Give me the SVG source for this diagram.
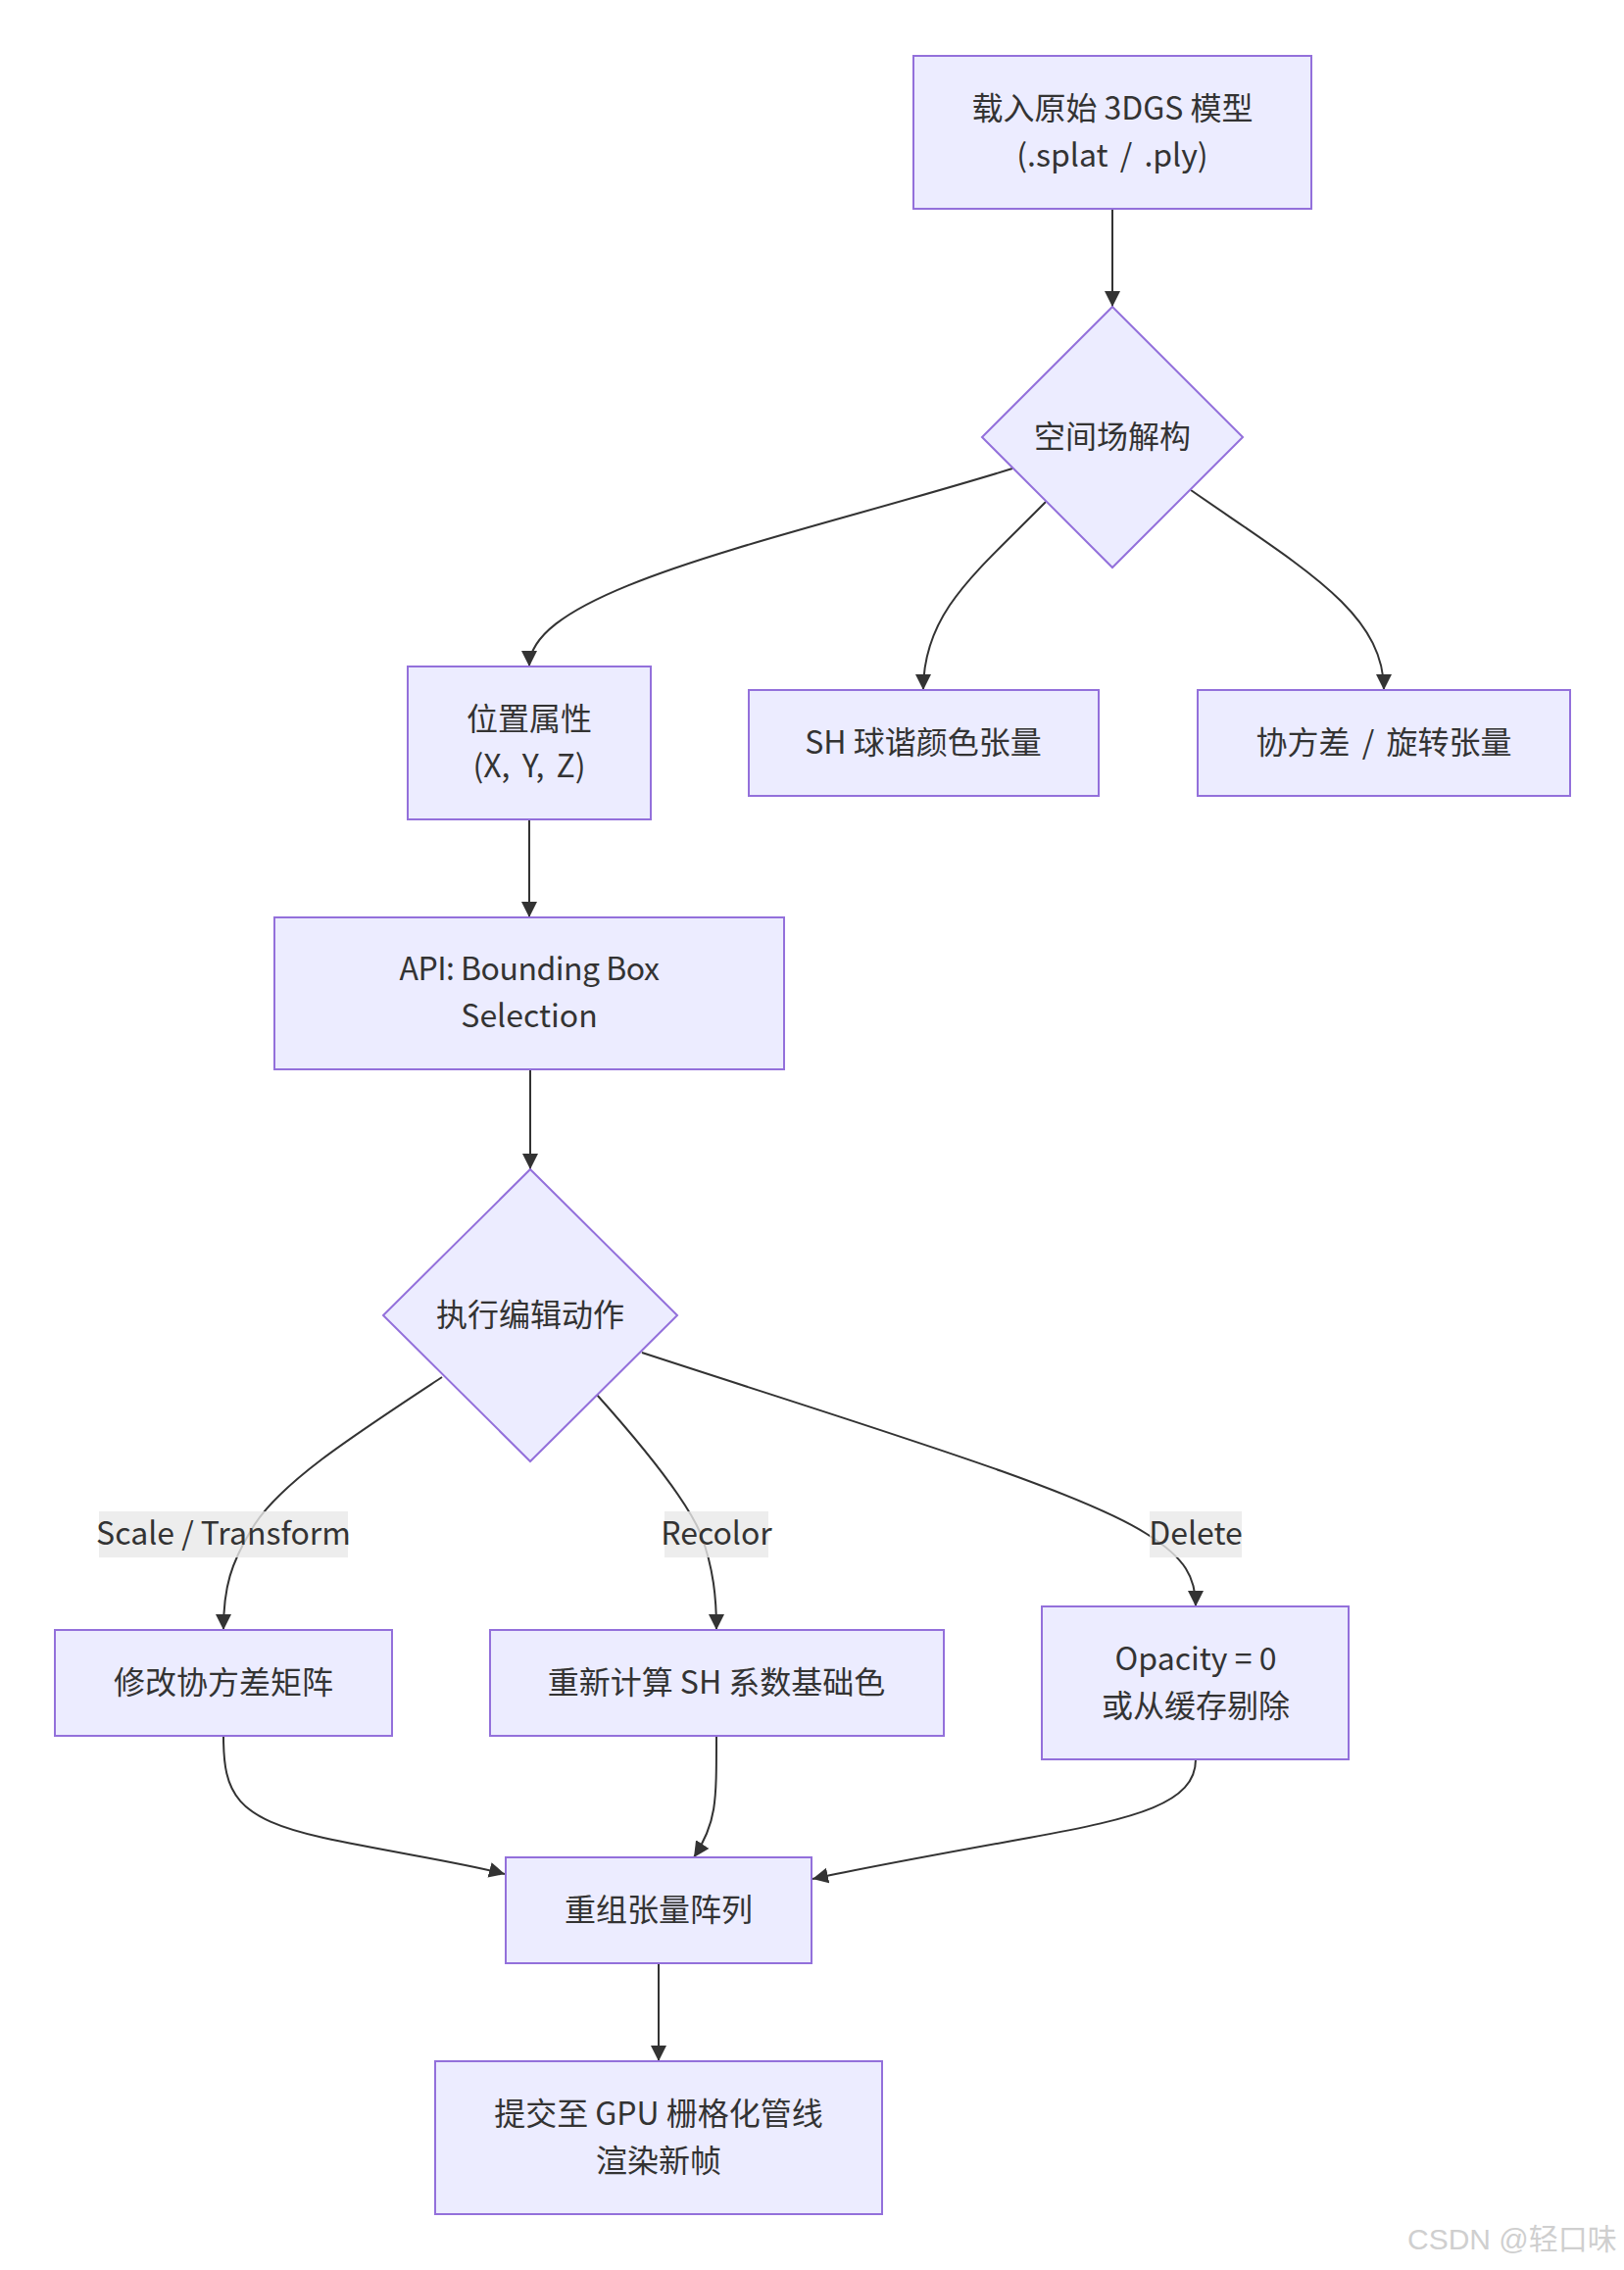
<svg xmlns="http://www.w3.org/2000/svg" width="1657" height="2316" viewBox="0 0 1657 2316">
<defs>
<marker id="arrow" viewBox="0 0 10 10" refX="10" refY="5" markerUnits="userSpaceOnUse" markerWidth="16" markerHeight="16" orient="auto">
<path d="M0,0 L10,5 L0,10 z" fill="#333333"/>
</marker>
</defs>
<style>
.node rect, .node polygon { fill: #ECECFF; stroke: #9370DB; stroke-width: 2; }
.node text, .elabel text { font-family: "Noto Sans CJK SC", "Noto Sans", sans-serif; font-size: 32px; fill: #333333; text-anchor: middle; dominant-baseline: central; white-space: pre; }
.ws { word-spacing: 5px; }
.edges path { fill: none; stroke: #333333; stroke-width: 2; marker-end: url(#arrow); }
.elabel rect { fill: #e8e8e8; opacity: 0.8; }
.wm { font-family: "Liberation Sans", "Noto Sans CJK SC", sans-serif; font-size: 30px; fill: #cfcfcf; }
</style>
<rect width="1657" height="2316" fill="#ffffff"/>
<g id="edges" class="edges">
<path d="M1135,213 L1135,313"/>
<path d="M1033,478 C800,550 540,600 540,680"/>
<path d="M1067,512 C995,585 942,625 942,704"/>
<path d="M1215,500 C1330,580 1412,625 1412,704"/>
<path d="M540,836 L540,936"/>
<path d="M541,1091 L541,1193"/>
<path d="M451,1405 C360,1465 290,1510 260,1555 C235,1595 228,1620 228,1663"/>
<path d="M609,1423 C660,1480 700,1530 715,1565 C728,1600 731,1630 731,1663"/>
<path d="M655,1380 C900,1460 1100,1520 1170,1565 C1210,1590 1220,1610 1220,1639"/>
<path d="M228,1771 C228,1830 240,1855 330,1875 C400,1890 470,1900 515,1912"/>
<path d="M731,1771 C731,1840 731,1860 708,1895"/>
<path d="M1220,1795 C1220,1840 1160,1855 1050,1875 C950,1893 880,1906 829,1917"/>
<path d="M672,2003 L672,2103"/>
</g>
<g id="edge-labels">
<g class="elabel" id="label-scale"><rect x="101" y="1542" width="254" height="47"/><text x="228" y="1562">Scale / Transform</text></g>
<g class="elabel" id="label-recolor"><rect x="678" y="1542" width="106" height="47"/><text x="731" y="1562">Recolor</text></g>
<g class="elabel" id="label-delete"><rect x="1173" y="1542" width="94" height="47"/><text x="1220" y="1562">Delete</text></g>
</g>
<g id="n-load" class="node"><rect x="932" y="57" width="406" height="156"/><text x="1135" y="108">载入原始 3DGS 模型</text><text class="ws" x="1135" y="156">(.splat / .ply)</text></g>
<g id="n-decomp" class="node"><polygon points="1135,313 1268,446 1135,579 1002,446"/><text x="1135" y="443">空间场解构</text></g>
<g id="n-pos" class="node"><rect x="416" y="680" width="248" height="156"/><text x="540" y="731">位置属性</text><text class="ws" x="540" y="779">(X, Y, Z)</text></g>
<g id="n-sh" class="node"><rect x="764" y="704" width="357" height="108"/><text x="942" y="755">SH 球谐颜色张量</text></g>
<g id="n-cov" class="node"><rect x="1222" y="704" width="380" height="108"/><text class="ws" x="1412" y="755">协方差 / 旋转张量</text></g>
<g id="n-api" class="node"><rect x="280" y="936" width="520" height="155"/><text x="540" y="986" letter-spacing="-0.5">API: Bounding Box</text><text x="540" y="1034">Selection</text></g>
<g id="n-edit" class="node"><polygon points="541,1193 691,1342 541,1491 391,1342"/><text x="541" y="1339">执行编辑动作</text></g>
<g id="n-scale" class="node"><rect x="56" y="1663" width="344" height="108"/><text x="228" y="1714">修改协方差矩阵</text></g>
<g id="n-recolor" class="node"><rect x="500" y="1663" width="463" height="108"/><text x="731" y="1714">重新计算 SH 系数基础色</text></g>
<g id="n-delete" class="node"><rect x="1063" y="1639" width="313" height="156"/><text x="1220" y="1690">Opacity = 0</text><text x="1220" y="1738">或从缓存剔除</text></g>
<g id="n-reorg" class="node"><rect x="516" y="1895" width="312" height="108"/><text x="672" y="1946">重组张量阵列</text></g>
<g id="n-submit" class="node"><rect x="444" y="2103" width="456" height="156"/><text x="672" y="2154">提交至 GPU 栅格化管线</text><text x="672" y="2202">渲染新帧</text></g>
<text class="wm" x="1436" y="2295">CSDN @轻口味</text>
</svg>
